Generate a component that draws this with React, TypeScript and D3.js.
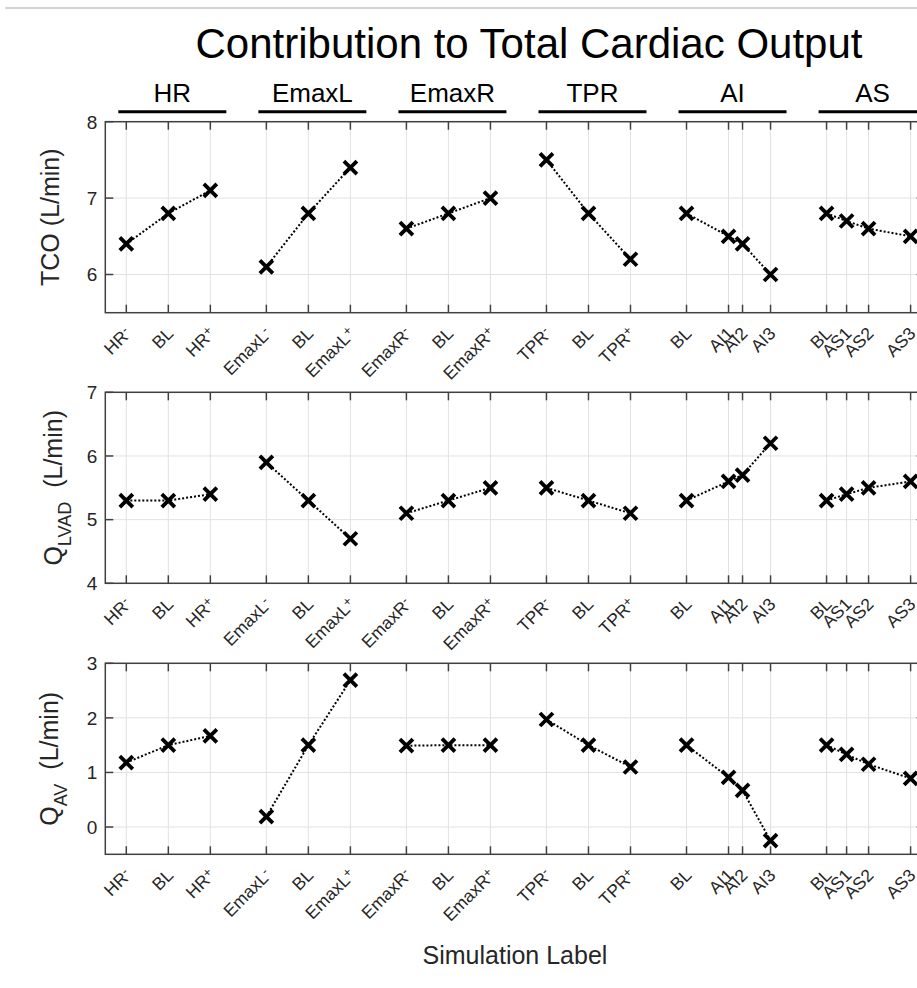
import React from "react";
import * as d3 from "d3";

const groupNames = ["HR", "EmaxL", "EmaxR", "TPR", "AI", "AS"];
const groupX = [
  [0, 3, 6],
  [10, 13, 16],
  [20, 23, 26],
  [30, 33, 36],
  [40, 43, 44, 46],
  [50, 51.43, 53, 56],
];
const tickLabels = [
  ["HR^-", "BL", "HR^+"],
  ["EmaxL^-", "BL", "EmaxL^+"],
  ["EmaxR^-", "BL", "EmaxR^+"],
  ["TPR^-", "BL", "TPR^+"],
  ["BL", "AI1", "AI2", "AI3"],
  ["BL", "AS1", "AS2", "AS3"],
];
const tcoValues = [
  [6.4, 6.8, 7.1],
  [6.1, 6.8, 7.4],
  [6.6, 6.8, 7.0],
  [7.5, 6.8, 6.2],
  [6.8, 6.5, 6.4, 6.0],
  [6.8, 6.7, 6.6, 6.5],
];
const qlvadValues = [
  [5.3, 5.3, 5.4],
  [5.9, 5.3, 4.7],
  [5.1, 5.3, 5.5],
  [5.5, 5.3, 5.1],
  [5.3, 5.6, 5.7, 6.2],
  [5.3, 5.4, 5.5, 5.6],
];
const qavValues = [
  [1.18, 1.5, 1.67],
  [0.19, 1.5, 2.69],
  [1.49, 1.5, 1.5],
  [1.97, 1.5, 1.1],
  [1.5, 0.91, 0.67, -0.25],
  [1.5, 1.33, 1.15, 0.89],
];
const tcoTicks = [6, 7, 8];
const qlvadTicks = [4, 5, 6, 7];
const qavTicks = [0, 1, 2, 3];
const tcoDomain = [5.5, 8];
const qlvadDomain = [4, 7];
const qavDomain = [-0.5, 3];

const titleText = "Contribution to Total Cardiac Output";
const xAxisTitle = "Simulation Label";

const FONT = "Arial, 'Liberation Sans', Helvetica, sans-serif";
const AXC = "#404040";
const TXC = "#262626";
const GRID = "#e2e2e2";

const W = 917;
const H = 988;
const LEFT = 105.3;
const RIGHT = 924.6;
const PH = 191;
const TOPS = [121.7, 392.3, 663.3];

const x = d3.scaleLinear().domain([-1.5, 57]).range([LEFT, RIGHT]);

function TickLabel({ label, tx, ty }) {
  const parts = label.split("^");
  return (
    <text
      transform={`translate(${tx},${ty}) rotate(-45)`}
      textAnchor="end"
      fontFamily={FONT}
      fontSize={17.5}
      fill={TXC}
    >
      {parts[0]}
      {parts[1] !== undefined && (
        <tspan fontSize={13} dy={-5}>
          {parts[1]}
        </tspan>
      )}
    </text>
  );
}

function YLabel({ main, sub, rest, bx, cy }) {
  return (
    <text
      transform={`translate(${bx},${cy}) rotate(-90)`}
      textAnchor="middle"
      fontFamily={FONT}
      fontSize={25}
      fill={TXC}
    >
      <tspan>{main}</tspan>
      {sub && (
        <tspan fontSize={18} dy={9}>
          {sub}
        </tspan>
      )}
      <tspan dy={sub ? -9 : 0} dx={sub ? 14 : 7}>
        {rest}
      </tspan>
    </text>
  );
}

function Panel({ top, domain, ticks, values, label }) {
  const bottom = top + PH;
  const y = d3.scaleLinear().domain(domain).range([bottom, top]);
  const line = d3
    .line()
    .x((d) => x(d[0]))
    .y((d) => y(d[1]));
  const allX = groupX.flat();
  const allLabels = tickLabels.flat();
  return (
    <g>
      {allX.map((v, i) => (
        <line key={"gx" + i} x1={x(v)} x2={x(v)} y1={top} y2={bottom} stroke={GRID} strokeWidth={1} />
      ))}
      {ticks.map((t, i) => (
        <line key={"gy" + i} x1={LEFT} x2={RIGHT} y1={y(t)} y2={y(t)} stroke={GRID} strokeWidth={1} />
      ))}
      <rect x={LEFT} y={top} width={RIGHT - LEFT} height={PH} fill="none" stroke={AXC} strokeWidth={1.5} />
      {allX.map((v, i) => (
        <g key={"tx" + i}>
          <line x1={x(v)} x2={x(v)} y1={bottom} y2={bottom - 8} stroke={AXC} strokeWidth={1.5} />
          <line x1={x(v)} x2={x(v)} y1={top} y2={top + 8} stroke={AXC} strokeWidth={1.5} />
        </g>
      ))}
      {ticks.map((t, i) => (
        <g key={"ty" + i}>
          <line x1={LEFT} x2={LEFT + 8} y1={y(t)} y2={y(t)} stroke={AXC} strokeWidth={1.5} />
          <line x1={RIGHT} x2={RIGHT - 8} y1={y(t)} y2={y(t)} stroke={AXC} strokeWidth={1.5} />
          <text
            x={LEFT - 8}
            y={y(t)}
            dy="0.36em"
            textAnchor="end"
            fontFamily={FONT}
            fontSize={19}
            fill={TXC}
          >
            {t}
          </text>
        </g>
      ))}
      {allX.map((v, i) => (
        <TickLabel key={"lx" + i} label={allLabels[i]} tx={x(v) + 6} ty={bottom + 22} />
      ))}
      {values.map((grp, gi) => {
        const pts = grp.map((v, j) => [groupX[gi][j], v]);
        return (
          <g key={"d" + gi}>
            <path d={line(pts)} fill="none" stroke="#000" strokeWidth={2} strokeDasharray="2,2" />
            {pts.map((p, j) => (
              <path
                key={j}
                transform={`translate(${x(p[0])},${y(p[1])})`}
                d="M-6.5,-6.5L6.5,6.5M-6.5,6.5L6.5,-6.5"
                stroke="#000"
                strokeWidth={3.8}
              />
            ))}
          </g>
        );
      })}
      {label}
    </g>
  );
}

export default function App() {
  return (
    <svg
      width={W}
      height={H}
      style={{ position: "absolute", left: 0, top: 0, background: "#fff" }}
    >
      <rect x={0} y={0} width={W} height={H} fill="#fff" />
      <line x1={5} x2={W} y1={8} y2={8} stroke="#c4c4c4" strokeWidth={1.5} />
      <text x={529} y={58} textAnchor="middle" fontFamily={FONT} fontSize={42} fill="#000">
        {titleText}
      </text>
      {groupNames.map((g, i) => {
        const xs = groupX[i];
        const c = x((xs[0] + xs[xs.length - 1]) / 2) + 4;
        return (
          <g key={g}>
            <line x1={c - 54} x2={c + 54} y1={111.7} y2={111.7} stroke="#000" strokeWidth={3} />
            <text x={c} y={102} textAnchor="middle" fontFamily={FONT} fontSize={26} fill="#000">
              {g}
            </text>
          </g>
        );
      })}
      <Panel
        top={TOPS[0]}
        domain={tcoDomain}
        ticks={tcoTicks}
        values={tcoValues}
        label={<YLabel main="TCO" rest="(L/min)" bx={59} cy={TOPS[0] + PH / 2} />}
      />
      <Panel
        top={TOPS[1]}
        domain={qlvadDomain}
        ticks={qlvadTicks}
        values={qlvadValues}
        label={<YLabel main="Q" sub="LVAD" rest="(L/min)" bx={62} cy={TOPS[1] + PH / 2} />}
      />
      <Panel
        top={TOPS[2]}
        domain={qavDomain}
        ticks={qavTicks}
        values={qavValues}
        label={<YLabel main="Q" sub="AV" rest="(L/min)" bx={58} cy={TOPS[2] + PH / 2} />}
      />
      <text
        x={(LEFT + RIGHT) / 2}
        y={964}
        textAnchor="middle"
        fontFamily={FONT}
        fontSize={25}
        fill={TXC}
      >
        {xAxisTitle}
      </text>
    </svg>
  );
}
